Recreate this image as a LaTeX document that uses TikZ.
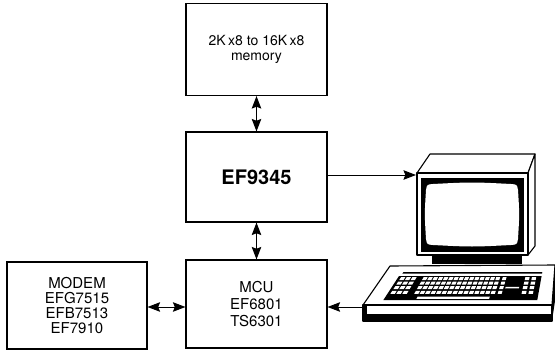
\documentclass[tikz,border=0pt]{standalone}
\usepackage{fontspec}
\setmainfont{TeX Gyre Heros}
\usetikzlibrary{arrows.meta}

% one slanted key (or black plate) on the keyboard, drawn in perspective:
% #1 colour, #2/#3 left/right x at the front row, #4/#5 depth of top/bottom edge
\newcommand\kbquad[5]{%
  \pgfmathsetmacro\kqa{#2+(#4)*(0.65-0.47*((#2)-386)/152)}%
  \pgfmathsetmacro\kqb{#3+(#4)*(0.65-0.47*((#3)-386)/152)}%
  \pgfmathsetmacro\kqc{#3+(#5)*(0.65-0.47*((#3)-386)/152)}%
  \pgfmathsetmacro\kqd{#2+(#5)*(0.65-0.47*((#2)-386)/152)}%
  \fill[#1] (\kqa,{296-(#4)}) -- (\kqb,{296-(#4)}) -- (\kqc,{296-(#5)}) -- (\kqd,{296-(#5)}) -- cycle;}

\begin{document}
\begin{tikzpicture}[x=1pt,y=-1pt,
  block/.style={draw=black, line width=1.1pt, minimum width=141pt, inner sep=0pt,
    align=center, font=\fontsize{14}{15}\selectfont},
  tip/.tip={Stealth[length=12.5pt,width=9.5pt,inset=1.8pt]},
  link/.style={line width=1pt, -tip},
  dlink/.style={line width=1pt, tip-tip},
  outline/.style={line width=1.1pt, line join=round}]
\useasboundingbox (0,0) rectangle (555,351);

% ---- blocks ----
\node[block, minimum height=92pt] (mem) at (256.5,49.5) {2K\,x8 to 16K\,x8\\memory};
\node[block, minimum height=90pt, font=\bfseries\fontsize{20}{22}\selectfont] (vdp) at (256.5,177) {EF9345};
\node[block, minimum height=88pt, font=\fontsize{15}{17}\selectfont] (mcu) at (256.5,304) {MCU\\EF6801\\TS6301};
\node[block, minimum width=140pt, minimum height=87pt, font=\fontsize{15}{14.8}\selectfont] (modem) at (77,305.5) {MODEM\\EFG7515\\EFB7513\\EF7910};

% ---- terminal: monitor ----
\filldraw[fill=white, outline] (417,173) -- (430,154) -- (535,154) -- (528,173) -- cycle;
\filldraw[fill=white, outline] (528,173) -- (535,154) -- (535,246) -- (528,255) -- cycle;
\filldraw[fill=white, outline] (417,173) rectangle (528,255);
\fill (420.5,177.5) rectangle (524,252);
\fill[white] (433,184) .. controls (472,182) .. (511,184)
  .. controls (517,184.5) .. (518,190) .. controls (519.5,214) .. (518,239)
  .. controls (517,244.5) .. (511,245) .. controls (472,247) .. (433,245)
  .. controls (427,244.5) .. (426,239) .. controls (424.5,214) .. (426,190)
  .. controls (427,184.5) .. cycle;
\fill (432,255) rectangle (522,264);

% ---- terminal: keyboard ----
\filldraw[fill=white, outline] (390,266) -- (555,265) -- (552,305) -- (363,305) -- cycle;
\filldraw[fill=white, outline] (363,305) rectangle (552,321);
\fill (363,314) rectangle (552,321);
\fill (363,305) rectangle (367,321);
\fill (552,305) -- (555,265) -- (555,301) -- (552,321) -- cycle;
% key plate and the function strip
\kbquad{black}{386}{538}{20}{-4}
\kbquad{black}{388}{538}{24}{22.3}
% left cluster
\foreach \r in {0,...,3} \foreach \c in {0,1,2} {\kbquad{white}{389+6*\c}{389+6*\c+4.5}{19-4.6*\r}{16-4.6*\r}}
% main block
\foreach \r in {0,...,3} \foreach \c in {0,...,14} {\kbquad{white}{413+5.5*\c}{413+5.5*\c+4.2}{19-4.6*\r}{16-4.6*\r}}
\foreach \r in {0,...,3} {\kbquad{white}{497}{501}{19-4.6*\r}{16-4.6*\r}}
\kbquad{white}{418}{490}{-0.6}{-2.8}
\kbquad{white}{503}{517}{9.2}{7.6}
% right cluster
\foreach \r in {0,...,3} \foreach \c in {0,1} {\kbquad{white}{521+7*\c}{521+7*\c+4.5}{19-4.6*\r}{16-4.6*\r}}

% ---- connections ----
\coordinate (crt) at (416,175);
\coordinate (kbd) at (363,307);
\draw[dlink] (mem) -- (vdp);
\draw[dlink] (vdp) -- (mcu);
\draw[dlink] (modem.east |- kbd) -- (mcu.west |- kbd);
\draw[link] (vdp.east |- crt) -- (crt);
\draw[link] (kbd) -- (mcu.east |- kbd);
\end{tikzpicture}
\end{document}
